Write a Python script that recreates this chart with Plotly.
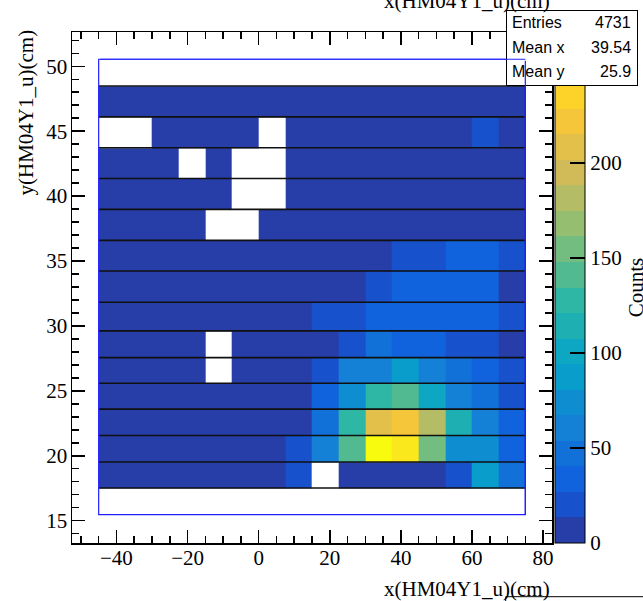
import numpy as np
import plotly.graph_objects as go

# ---------------- data ----------------
X_EDGES = [-45.0, -37.5, -30.0, -22.5, -15.0, -7.5, 0.0, 7.5, 15.0, 22.5,
           30.0, 37.5, 45.0, 52.5, 60.0, 67.5, 75.0]
Y_EDGES = [15.46, 17.52, 19.52, 21.56, 23.59, 25.59, 27.56, 29.62, 31.82,
           34.23, 36.59, 38.98, 41.36, 43.72, 46.1, 48.48, 50.54]

N = None
# counts per bin, rows listed from the top row (y ~ 50) down to the bottom row (y ~ 16)
COUNTS_TOP_DOWN = [
    [N, N, N, N, N, N, N, N, N, N, N, N, N, N, N, N],
    [5, 6, 4, 5, 6, 5, 7, 6, 5, 6, 7, 6, 8, 7, 6, 5],
    [N, N, 4, 5, 3, 4, N, 5, 6, 5, 7, 6, 8, 9, 18, 7],
    [4, 3, 5, N, 2, N, N, 5, 6, 7, 6, 8, 7, 9, 8, 7],
    [3, 4, 3, 5, 4, N, N, 4, 6, 5, 7, 8, 9, 8, 10, 6],
    [4, 3, 4, 3, N, N, 3, 5, 6, 7, 8, 9, 10, 11, 12, 8],
    [4, 3, 5, 4, 3, 5, 4, 6, 7, 9, 12, 17, 21, 29, 31, 16],
    [3, 4, 4, 3, 5, 4, 5, 6, 8, 11, 19, 30, 34, 33, 31, 12],
    [4, 3, 4, 5, 3, 4, 6, 9, 15, 19, 31, 35, 33, 32, 29, 18],
    [3, 4, 3, 4, N, 4, 5, 8, 12, 24, 44, 38, 36, 25, 22, 11],
    [4, 3, 4, 3, N, 5, 6, 10, 23, 58, 63, 86, 61, 46, 34, 20],
    [3, 4, 5, 4, 3, 5, 6, 12, 35, 75, 126, 142, 100, 59, 47, 22],
    [4, 3, 4, 5, 4, 6, 8, 13, 48, 127, 209, 222, 183, 115, 61, 33],
    [3, 4, 3, 4, 5, 7, 11, 21, 64, 140, 269, 249, 154, 73, 72, 31],
    [2, 3, 4, 3, 4, 5, 9, 17, N, 8, 10, 11, 12, 20, 88, 47],
    [N, N, N, N, N, N, N, N, N, N, N, N, N, N, N, N],
]
Z = COUNTS_TOP_DOWN[::-1]   # bottom row first for plotting

X_TICKS = [-40, -20, 0, 20, 40, 60, 80]
Y_TICKS = [15, 20, 25, 30, 35, 40, 45, 50]
CB_TICKS = [0, 50, 100, 150, 200, 250]

STATS_LABELS = ["Entries", "Mean x", "Mean y"]
STATS_VALUES = ["4731", "39.54", "25.9"]
X_TITLE = "x(HM04Y1_u)(cm)"
Y_TITLE = "y(HM04Y1_u)(cm)"
Z_TITLE = "Counts"

# ---------------- ROOT kBird palette, 20 contour levels ----------------
BIRD_STOPS = [0.0, 0.125, 0.25, 0.375, 0.5, 0.625, 0.75, 0.875, 1.0]
BIRD_R = [0.2082, 0.0592, 0.0780, 0.0232, 0.1802, 0.5301, 0.8186, 0.9956, 0.9764]
BIRD_G = [0.1664, 0.3599, 0.5041, 0.6419, 0.7178, 0.7492, 0.7328, 0.7862, 0.9832]
BIRD_B = [0.5293, 0.8684, 0.8385, 0.7914, 0.6425, 0.4662, 0.3499, 0.1968, 0.0539]
N_LEVELS = 20
N_COLORS = 255

colorscale = []
for i in range(N_LEVELS):
    k = int((i + 0.99) * N_COLORS / N_LEVELS)
    t = k / (N_COLORS - 1)
    r = np.interp(t, BIRD_STOPS, BIRD_R)
    g = np.interp(t, BIRD_STOPS, BIRD_G)
    b = np.interp(t, BIRD_STOPS, BIRD_B)
    col = "rgb(%d,%d,%d)" % (round(r * 255), round(g * 255), round(b * 255))
    colorscale.append([i / N_LEVELS, col])
    colorscale.append([(i + 1) / N_LEVELS, col])

zmax = max(v for row in Z for v in row if v is not None)

# ---------------- geometry ----------------
W, H = 643, 601
ML, MR, MT, MB = 72, 91, 32, 58
PW, PH = W - ML - MR, H - MT - MB


def px_x(p):
    return (p - ML) / PW


def px_y(p):
    return (H - MB - p) / PH


SERIF = "Liberation Serif"
SANS = "Liberation Sans"

fig = go.Figure()
fig.add_trace(go.Heatmap(
    x=X_EDGES, y=Y_EDGES, z=Z,
    zmin=0, zmax=zmax, colorscale=colorscale, zsmooth=False,
    hoverongaps=False, hoverinfo="skip",
    colorbar=dict(
        thickness=30, thicknessmode="pixels", len=1, lenmode="fraction",
        x=px_x(555), xanchor="left", xpad=0, y=0.5, yanchor="middle", ypad=0,
        outlinecolor="black", outlinewidth=1,
        ticks="inside", ticklen=15, tickwidth=1.2, tickcolor="black",
        tickmode="array", tickvals=CB_TICKS, ticktext=[str(v) for v in CB_TICKS],
        tickfont=dict(family=SERIF, size=21, color="black"),
        title=dict(text=Z_TITLE, side="right", font=dict(family=SERIF, size=21, color="black")),
    ),
))

shapes = []
# black row separators
for yv in Y_EDGES[1:-1]:
    shapes.append(dict(type="line", xref="x", yref="y", x0=X_EDGES[0], x1=X_EDGES[-1],
                       y0=yv, y1=yv, line=dict(color="#101010", width=1.6), layer="above"))
# blue histogram outline
shapes.append(dict(type="rect", xref="x", yref="y", x0=X_EDGES[0], x1=X_EDGES[-1],
                   y0=Y_EDGES[0], y1=Y_EDGES[-1], line=dict(color="#2020ff", width=1.2),
                   fillcolor="rgba(0,0,0,0)", layer="above"))
# partial box at bottom right (another pad's stats box)
shapes.append(dict(type="rect", xref="paper", yref="paper", x0=px_x(505.7), x1=px_x(700),
                   y0=px_y(596.7), y1=px_y(640), line=dict(color="black", width=1),
                   fillcolor="white", layer="above"))

annotations = []
# stats box
annotations.append(dict(xref="paper", yref="paper", x=px_x(571.8), y=px_y(48),
                        xanchor="center", yanchor="middle", text="", showarrow=False,
                        width=130, height=74, bgcolor="white", bordercolor="black",
                        borderwidth=1, borderpad=0))
for i, (lab, val) in enumerate(zip(STATS_LABELS, STATS_VALUES)):
    yc = px_y(22.5 + i * 24.5)
    annotations.append(dict(xref="paper", yref="paper", x=px_x(510), y=yc, xanchor="left",
                            yanchor="middle", text=lab, showarrow=False,
                            font=dict(family=SANS, size=16, color="black")))
    annotations.append(dict(xref="paper", yref="paper", x=px_x(633), y=yc, xanchor="right",
                            yanchor="middle", text=val, showarrow=False,
                            font=dict(family=SANS, size=16, color="black")))
# blue outline edges that sit over the stats box
annotations.append(dict(xref="x", yref="y", axref="x", ayref="y", x=X_EDGES[-1], y=Y_EDGES[-1],
                        ax=X_EDGES[0], ay=Y_EDGES[-1], text="", showarrow=True, arrowhead=0,
                        arrowwidth=1.2, arrowcolor="#2020ff", standoff=0, startstandoff=0))
annotations.append(dict(xref="x", yref="y", axref="x", ayref="y", x=X_EDGES[-1], y=Y_EDGES[0],
                        ax=X_EDGES[-1], ay=Y_EDGES[-1], text="", showarrow=True, arrowhead=0,
                        arrowwidth=1.2, arrowcolor="#2020ff", standoff=0, startstandoff=0))
# axis titles
annotations.append(dict(xref="paper", yref="paper", x=1.0, y=px_y(589), xanchor="right",
                        yanchor="middle", text=X_TITLE, showarrow=False,
                        font=dict(family=SERIF, size=21, color="black")))
annotations.append(dict(xref="paper", yref="paper", x=1.0, y=px_y(1.5), xanchor="right",
                        yanchor="middle", text=X_TITLE, showarrow=False,
                        font=dict(family=SERIF, size=21, color="black")))
annotations.append(dict(xref="paper", yref="paper", x=px_x(25.5), y=px_y(113), xanchor="center",
                        yanchor="middle", text=Y_TITLE, showarrow=False, textangle=-90,
                        font=dict(family=SERIF, size=21, color="black")))

axis_common = dict(
    showline=True, linecolor="black", linewidth=1.5, mirror="ticks",
    ticks="inside", ticklen=13, tickwidth=1.5, tickcolor="black",
    showgrid=False, zeroline=False, automargin=False,
    tickfont=dict(family=SERIF, size=21, color="black"),
)

fig.update_layout(
    width=W, height=H,
    margin=dict(l=ML, r=MR, t=MT, b=MB, pad=0, autoexpand=False),
    paper_bgcolor="white", plot_bgcolor="white",
    hovermode=False,
    xaxis=dict(range=[-52.5, 82.5], tickmode="array", tickvals=X_TICKS,
               minor=dict(dtick=5, tick0=0, ticks="inside", ticklen=7, tickwidth=1.5,
                          tickcolor="black", showgrid=False),
               ticklabelstandoff=-5, **axis_common),
    yaxis=dict(range=[13.28, 52.64], tickmode="array", tickvals=Y_TICKS,
               minor=dict(dtick=1, tick0=0, ticks="inside", ticklen=7, tickwidth=1.5,
                          tickcolor="black", showgrid=False),
               ticklabelstandoff=-1, **axis_common),
    shapes=shapes, annotations=annotations,
    showlegend=False,
)

fig.write_html("out.html", config={"displayModeBar": False, "staticPlot": True},
               post_script="document.body.style.margin='0';document.body.style.overflow='hidden';")
